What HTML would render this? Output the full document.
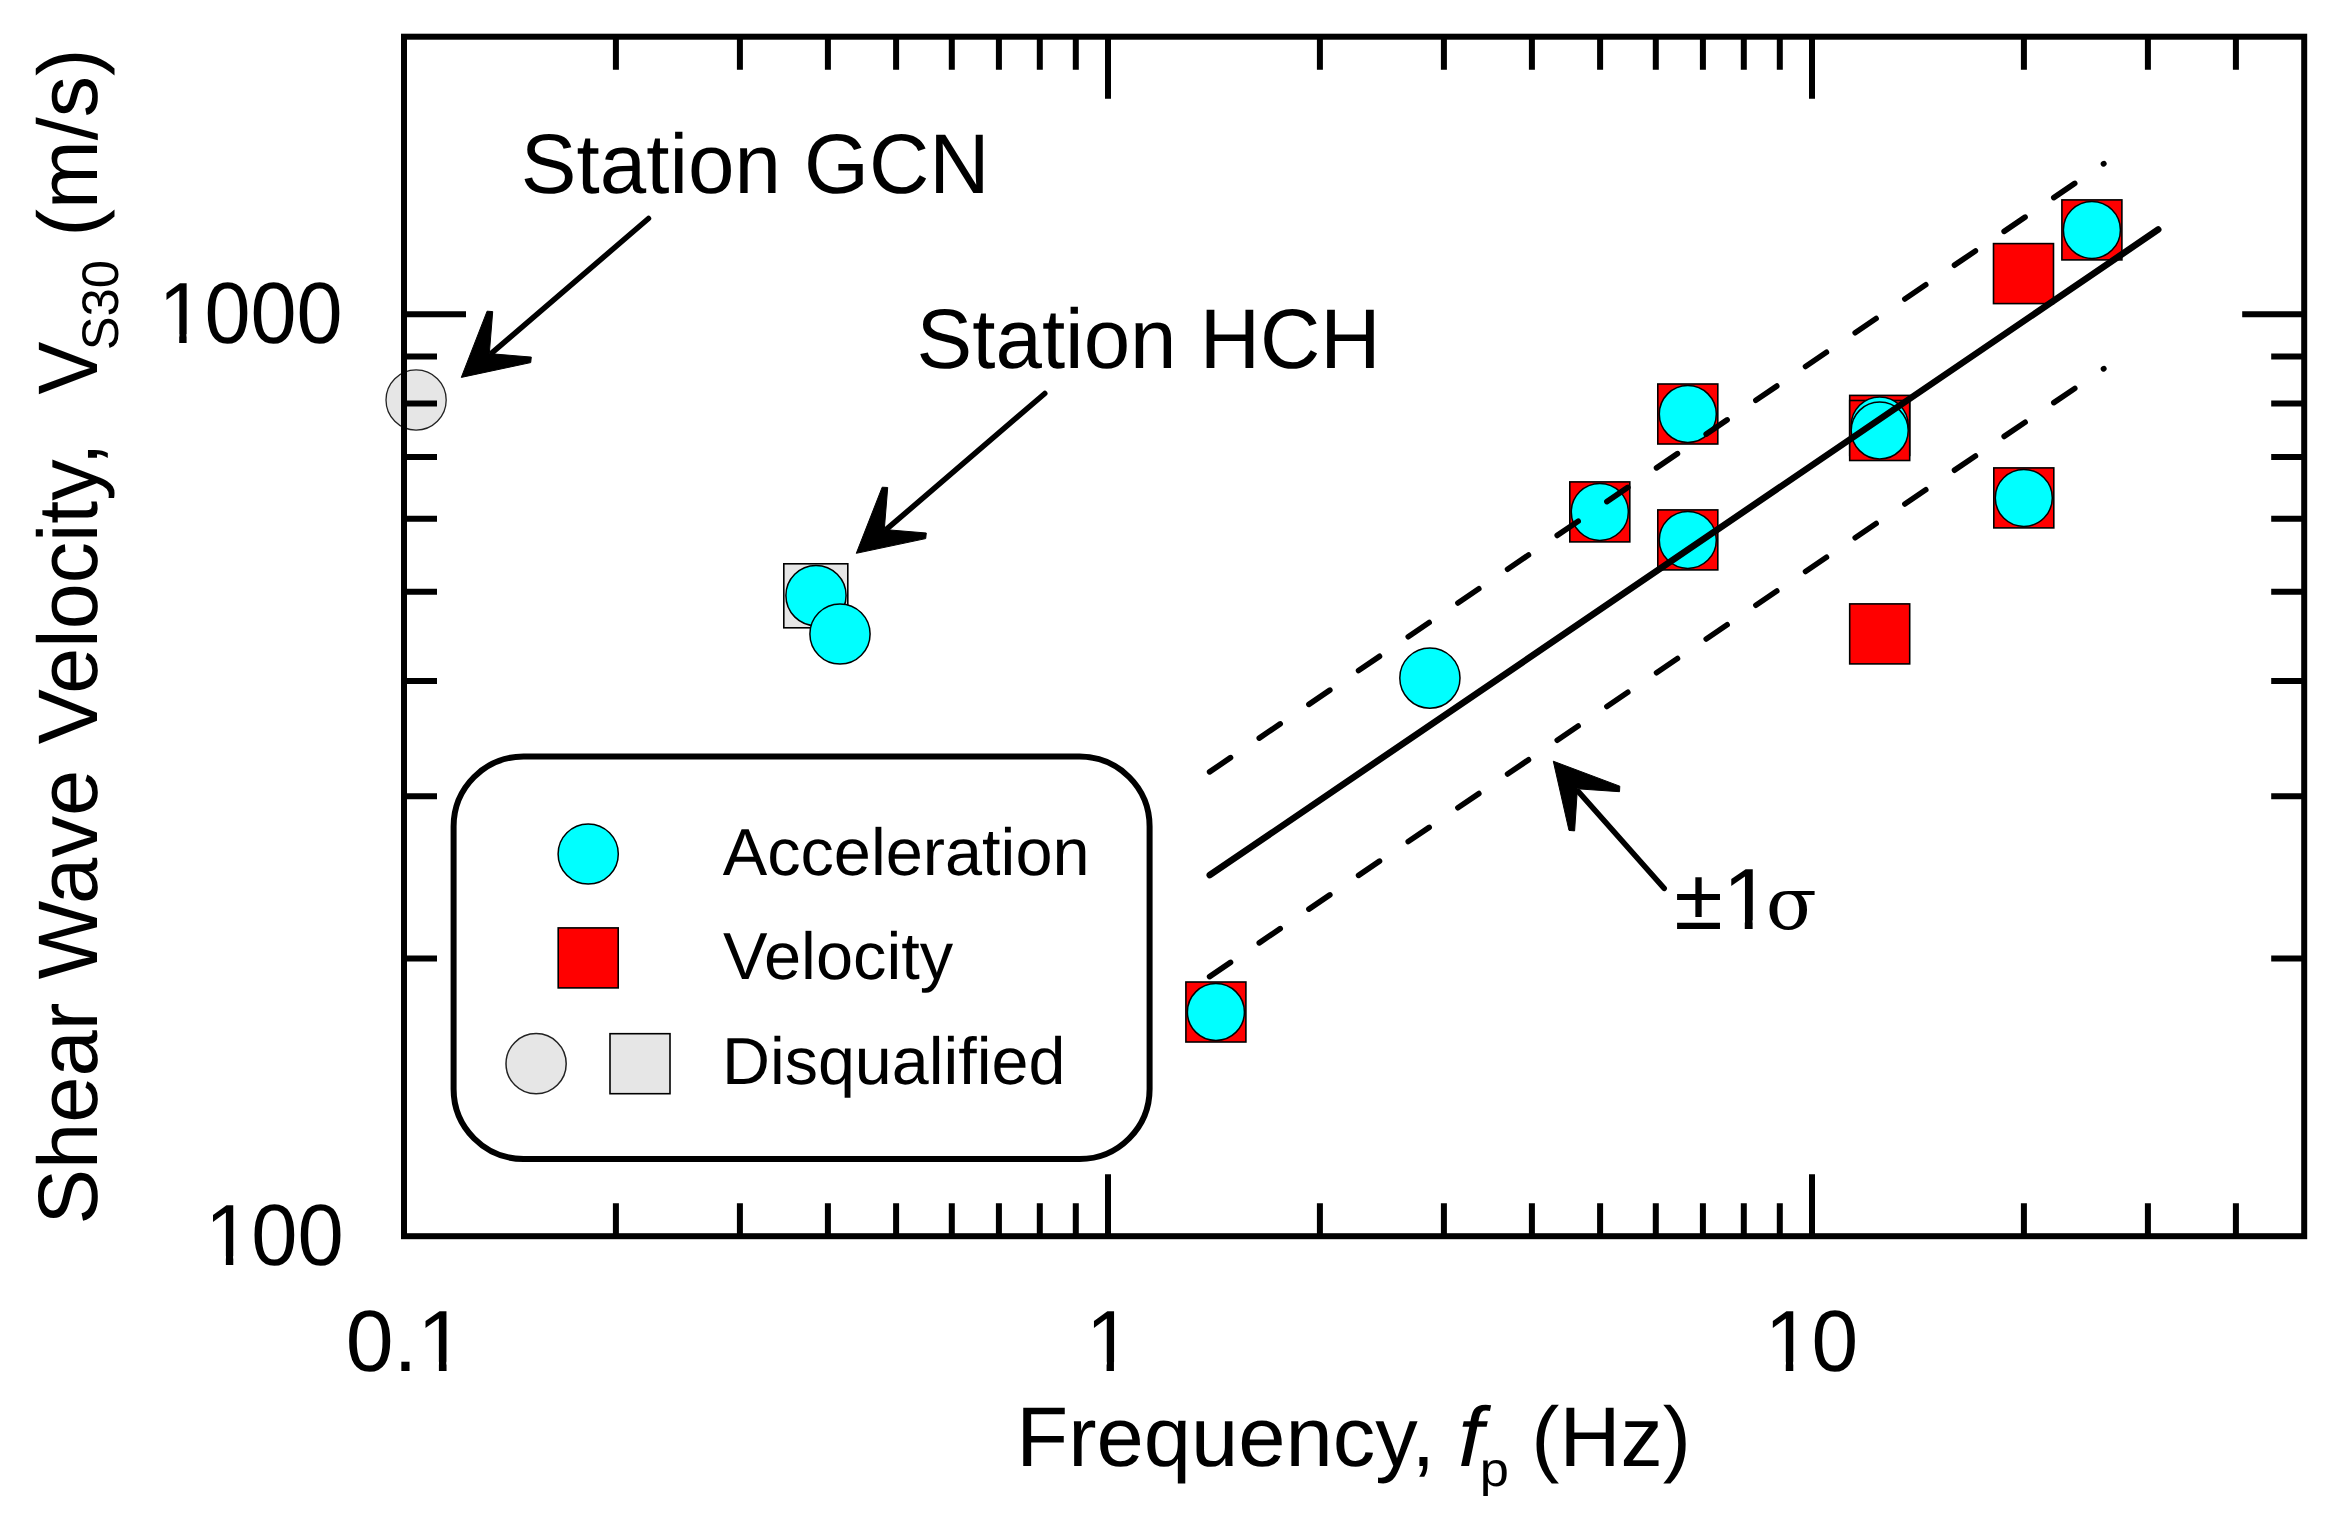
<!DOCTYPE html>
<html lang="en"><head><meta charset="utf-8"><title>Shear Wave Velocity vs Frequency</title>
<style>html,body{margin:0;padding:0;background:#fff}body{width:2330px;height:1528px;overflow:hidden}svg{display:block}text{font-family:"Liberation Sans",Arial,sans-serif;fill:#000;text-rendering:geometricPrecision}.ser{font-family:"DejaVu Serif","Liberation Serif",serif}</style></head><body>
<svg width="2330" height="1528" viewBox="0 0 2330 1528">
<rect width="2330" height="1528" fill="#fff"/>
<circle cx="416.1" cy="400" r="30.1" fill="#e6e6e6" stroke="#222" stroke-width="1.3"/>
<path d="M615.9 36.7 v33.0 M615.9 1236.2 v-33.0 M739.9 36.7 v33.0 M739.9 1236.2 v-33.0 M827.9 36.7 v33.0 M827.9 1236.2 v-33.0 M896.1 36.7 v33.0 M896.1 1236.2 v-33.0 M951.8 36.7 v33.0 M951.8 1236.2 v-33.0 M998.9 36.7 v33.0 M998.9 1236.2 v-33.0 M1039.8 36.7 v33.0 M1039.8 1236.2 v-33.0 M1075.8 36.7 v33.0 M1075.8 1236.2 v-33.0 M1108.0 36.7 v62.0 M1108.0 1236.2 v-62.0 M1319.9 36.7 v33.0 M1319.9 1236.2 v-33.0 M1443.9 36.7 v33.0 M1443.9 1236.2 v-33.0 M1531.9 36.7 v33.0 M1531.9 1236.2 v-33.0 M1600.1 36.7 v33.0 M1600.1 1236.2 v-33.0 M1655.8 36.7 v33.0 M1655.8 1236.2 v-33.0 M1702.9 36.7 v33.0 M1702.9 1236.2 v-33.0 M1743.8 36.7 v33.0 M1743.8 1236.2 v-33.0 M1779.8 36.7 v33.0 M1779.8 1236.2 v-33.0 M1812.0 36.7 v62.0 M1812.0 1236.2 v-62.0 M2023.9 36.7 v33.0 M2023.9 1236.2 v-33.0 M2147.9 36.7 v33.0 M2147.9 1236.2 v-33.0 M2235.9 36.7 v33.0 M2235.9 1236.2 v-33.0 M404.0 958.5 h33.0 M2304.2 958.5 h-33.0 M404.0 796.2 h33.0 M2304.2 796.2 h-33.0 M404.0 681.1 h33.0 M2304.2 681.1 h-33.0 M404.0 591.8 h33.0 M2304.2 591.8 h-33.0 M404.0 518.8 h33.0 M2304.2 518.8 h-33.0 M404.0 457.1 h33.0 M2304.2 457.1 h-33.0 M404.0 403.6 h33.0 M2304.2 403.6 h-33.0 M404.0 356.5 h33.0 M2304.2 356.5 h-33.0 M404.0 314.3 h62.0 M2304.2 314.3 h-62.0" stroke="#000" stroke-width="6" fill="none" stroke-linecap="butt"/>
<rect x="404.0" y="36.7" width="1900.2" height="1199.5" fill="none" stroke="#000" stroke-width="6"/>
<rect x="783.8" y="563.8" width="64" height="64" fill="#e6e6e6" stroke="#000" stroke-width="1.6"/>
<circle cx="816.0" cy="595.6" r="30.1" fill="#0ff" stroke="#000" stroke-width="1.5"/>
<circle cx="840.0" cy="634.0" r="30.1" fill="#0ff" stroke="#000" stroke-width="1.5"/>
<rect x="2061.9" y="199.9" width="60" height="60" fill="#f00" stroke="#000" stroke-width="1.6"/>
<rect x="1993.5" y="243.6" width="60" height="60" fill="#f00" stroke="#000" stroke-width="1.6"/>
<rect x="1657.8" y="384.0" width="60" height="60" fill="#f00" stroke="#000" stroke-width="1.6"/>
<rect x="1849.7" y="395.4" width="60" height="60" fill="#f00" stroke="#000" stroke-width="1.6"/>
<rect x="1849.7" y="400.5" width="60" height="60" fill="#f00" stroke="#000" stroke-width="1.6"/>
<rect x="1993.8" y="467.9" width="60" height="60" fill="#f00" stroke="#000" stroke-width="1.6"/>
<rect x="1569.8" y="481.9" width="60" height="60" fill="#f00" stroke="#000" stroke-width="1.6"/>
<rect x="1657.8" y="509.9" width="60" height="60" fill="#f00" stroke="#000" stroke-width="1.6"/>
<rect x="1849.7" y="603.9" width="60" height="60" fill="#f00" stroke="#000" stroke-width="1.6"/>
<rect x="1185.9" y="982.0" width="60" height="60" fill="#f00" stroke="#000" stroke-width="1.6"/>
<circle cx="2091.9" cy="229.9" r="28.5" fill="#0ff" stroke="#000" stroke-width="1.5"/>
<circle cx="1687.8" cy="414.0" r="28.5" fill="#0ff" stroke="#000" stroke-width="1.5"/>
<circle cx="1879.7" cy="425.4" r="28.5" fill="#0ff" stroke="#000" stroke-width="1.5"/>
<circle cx="1879.7" cy="430.5" r="28.5" fill="#0ff" stroke="#000" stroke-width="1.5"/>
<circle cx="2023.8" cy="497.9" r="28.5" fill="#0ff" stroke="#000" stroke-width="1.5"/>
<circle cx="1599.8" cy="511.9" r="28.5" fill="#0ff" stroke="#000" stroke-width="1.5"/>
<circle cx="1687.8" cy="539.9" r="28.5" fill="#0ff" stroke="#000" stroke-width="1.5"/>
<circle cx="1429.9" cy="678.1" r="30.1" fill="#0ff" stroke="#000" stroke-width="1.5"/>
<circle cx="1215.9" cy="1012.0" r="28.5" fill="#0ff" stroke="#000" stroke-width="1.5"/>
<line x1="1209.8" y1="875.1" x2="2158.2" y2="229.6" stroke="#000" stroke-width="6.6" stroke-linecap="round"/>
<line x1="1209.6" y1="771.9" x2="2103.83" y2="163.58" stroke="#000" stroke-width="5.6" stroke-linecap="round" stroke-dasharray="25.30 34.76"/>
<line x1="1209.6" y1="976.6" x2="2103.83" y2="368.68" stroke="#000" stroke-width="5.6" stroke-linecap="round" stroke-dasharray="25.30 34.75"/>
<line x1="648.5" y1="218.5" x2="492.2" y2="352.7" stroke="#000" stroke-width="5.5" stroke-linecap="round"/>
<polygon points="461.3,377.4 487.1,311.2 492.7,311.6 489.3,353.6 531.3,357.1 530.7,362.6" fill="#000" stroke="#000" stroke-width="1" stroke-linejoin="round"/>
<line x1="1044.8" y1="393.5" x2="887.2" y2="528.7" stroke="#000" stroke-width="5.5" stroke-linecap="round"/>
<polygon points="856.3,553.3 882.2,487.2 887.7,487.5 884.3,529.5 926.3,533.0 925.7,538.6" fill="#000" stroke="#000" stroke-width="1" stroke-linejoin="round"/>
<line x1="1664.2" y1="888.4" x2="1578.4" y2="791.7" stroke="#000" stroke-width="5.5" stroke-linecap="round"/>
<polygon points="1553.3,761.2 1619.8,786.2 1619.5,791.7 1577.4,788.8 1574.6,830.9 1569.0,830.4" fill="#000" stroke="#000" stroke-width="1" stroke-linejoin="round"/>
<rect x="453.6" y="756.5" width="696" height="402.5" rx="70" ry="70" fill="#fff" stroke="#000" stroke-width="6"/>
<circle cx="588.2" cy="854.0" r="30.1" fill="#0ff" stroke="#000" stroke-width="1.5"/>
<rect x="558.2" y="927.9" width="60" height="60" fill="#f00" stroke="#000" stroke-width="1.6"/>
<circle cx="536.1" cy="1063.7" r="30.1" fill="#e6e6e6" stroke="#222" stroke-width="1.5"/>
<rect x="610.0" y="1033.7" width="60" height="60" fill="#e6e6e6" stroke="#000" stroke-width="1.6"/>
<text transform="translate(722.67,875.00) scale(1.0025,1)" font-size="66.5">Acceleration</text>
<text transform="translate(723.07,978.90) scale(1.0040,1)" font-size="66.5">Velocity</text>
<text transform="translate(721.95,1083.60) scale(0.9990,1)" font-size="66.5">Disqualified</text>
<clipPath id="c1"><path clip-rule="evenodd" d="M-200 -200 H394 V200 H-200 Z M3.48 -8.70 H21.79 V1.74 H3.48 Z M29.54 -8.70 H46.11 V1.74 H29.54 Z"/></clipPath>
<text transform="translate(158.48,342.80) scale(0.9517,1)" font-size="87" clip-path="url(#c1)">1000</text>
<clipPath id="c2"><path clip-rule="evenodd" d="M-200 -200 H345 V200 H-200 Z M3.48 -8.70 H21.79 V1.74 H3.48 Z M29.54 -8.70 H46.11 V1.74 H29.54 Z"/></clipPath>
<text transform="translate(205.06,1264.70) scale(0.9550,1)" font-size="87" clip-path="url(#c2)">100</text>
<clipPath id="c3"><path clip-rule="evenodd" d="M-200 -200 H321 V200 H-200 Z M76.04 -8.70 H94.35 V1.74 H76.04 Z M102.09 -8.70 H118.67 V1.74 H102.09 Z"/></clipPath>
<text transform="translate(345.65,1370.50) scale(0.9883,1)" font-size="87" clip-path="url(#c3)">0.1</text>
<clipPath id="c4"><path clip-rule="evenodd" d="M-200 -200 H248 V200 H-200 Z M3.48 -8.70 H21.79 V1.74 H3.48 Z M29.54 -8.70 H46.11 V1.74 H29.54 Z"/></clipPath>
<text transform="translate(1085.90,1370.50) scale(0.9493,1)" font-size="87" clip-path="url(#c4)">1</text>
<clipPath id="c5"><path clip-rule="evenodd" d="M-200 -200 H297 V200 H-200 Z M3.48 -8.70 H21.79 V1.74 H3.48 Z M29.54 -8.70 H46.11 V1.74 H29.54 Z"/></clipPath>
<text transform="translate(1764.78,1370.50) scale(0.9643,1)" font-size="87" clip-path="url(#c5)">10</text>
<text transform="translate(520.86,192.60) scale(0.9882,1)" font-size="84.5">Station GCN</text>
<text transform="translate(916.56,368.30) scale(0.9882,1)" font-size="84.5">Station HCH</text>
<clipPath id="c6"><path clip-rule="evenodd" d="M-200 -200 H296 V200 H-200 Z M51.23 -8.70 H69.54 V1.74 H51.23 Z M77.28 -8.70 H93.86 V1.74 H77.28 Z"/></clipPath>
<text transform="translate(1674.17,929.00) scale(1.0154,1)" font-size="87" clip-path="url(#c6)">±1</text>
<text transform="translate(1765.86,928.60) scale(1.0246,1)" font-size="73" class="ser">σ</text>
<text transform="translate(1016.23,1466.00) scale(1.0058,1)" font-size="84.5">Frequency,</text>
<text transform="translate(1457.91,1466.00) scale(1.0758,1)" font-size="84.5" font-style="italic">f</text>
<text transform="translate(1479.64,1486.40) scale(1.0813,1)" font-size="48.5">p</text>
<text transform="translate(1531.36,1466.00) scale(0.9996,1)" font-size="84.5">(Hz)</text>
<g transform="rotate(-90)">
<text transform="translate(-1224.53,96.80) scale(0.9848,1)" font-size="84.5">Shear Wave</text>
<text transform="translate(-744.21,96.80) scale(0.9780,1)" font-size="84.5">Velocity,</text>
<text transform="translate(-394.40,96.80) scale(0.9385,1)" font-size="84.5">V</text>
<text transform="translate(-350.34,118.00) scale(0.9869,1)" font-size="51.5">S30</text>
<text transform="translate(-236.41,96.80) scale(0.9762,1)" font-size="84.5">(m/s)</text>
</g>
</svg></body></html>
